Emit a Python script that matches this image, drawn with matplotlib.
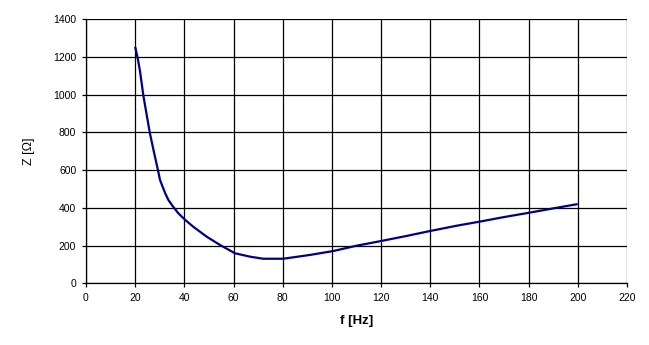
import matplotlib
matplotlib.use("Agg")
import matplotlib.pyplot as plt

# Impedance curve: frequency [Hz] vs. impedance [Ohm]
freq = [20, 21, 22, 23.3, 24.7, 26, 27.6, 29.4, 30.1, 31.4, 32.3, 33.5, 35.5,
        37.5, 40, 43.6, 49.1, 54.5, 60.6, 66.7, 72.1, 80.2, 91, 100.6, 110,
        120, 130.4, 139.9, 150.7, 160.2, 170.4, 180.2, 190, 200]
impedance = [1254, 1196, 1122, 998, 892, 795, 698, 592, 548, 504, 475, 442, 405,
             372, 340, 300, 247, 203, 159, 141, 130, 130, 150, 171, 199,
             224, 251, 277, 305, 327, 352, 374, 397, 420]

x_ticks = list(range(0, 221, 20))
y_ticks = list(range(0, 1401, 200))

plt.rcParams['font.family'] = ['Liberation Sans', 'DejaVu Sans']

fig = plt.figure(figsize=(6.49, 3.45), dpi=100)
ax = fig.add_axes([0.1325, 0.179, 0.8335, 0.765])

ax.plot(freq, impedance, color='#000080', linewidth=1.6,
        solid_joinstyle='round', solid_capstyle='butt')

ax.set_xlim(0, 220)
ax.set_ylim(0, 1400)
ax.set_xticks(x_ticks)
ax.set_yticks(y_ticks)
ax.grid(True, color='black', linewidth=0.9)
ax.set_axisbelow(True)

for side in ('top', 'right'):
    ax.spines[side].set_visible(False)
for side in ('left', 'bottom'):
    ax.spines[side].set_linewidth(0.9)

ax.tick_params(direction='out', length=3, width=0.9, labelsize=7.5, pad=4)

ax.set_xlabel('f [Hz]', fontsize=9.5, fontweight='bold', labelpad=9)
ax.set_ylabel('Z [Ω]', fontsize=9, labelpad=13)

fig.savefig('out.png', dpi=100)
